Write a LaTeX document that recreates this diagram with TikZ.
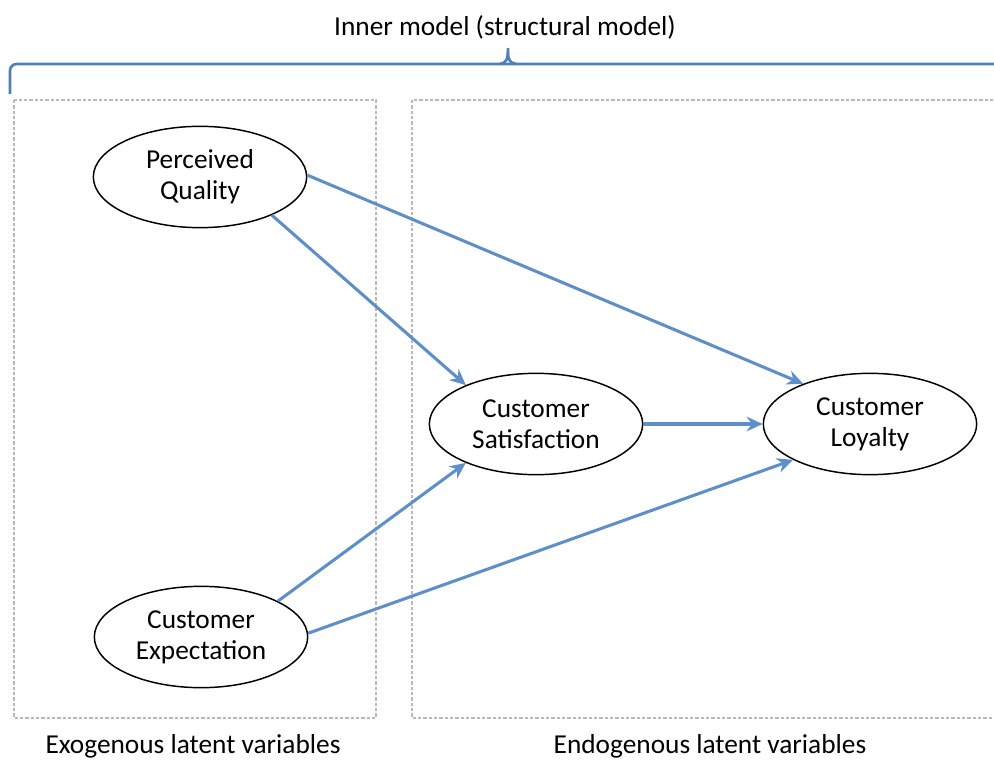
\documentclass[tikz,border=0pt]{standalone}
\usepackage{fontspec}
\setmainfont{Carlito}
\usetikzlibrary{shapes.geometric,arrows.meta}
\definecolor{arrowblue}{HTML}{5E8FC8}
\definecolor{braceblue}{HTML}{4F7FBA}
\tikzset{
  latent/.style={ellipse, draw=black, line width=1.1pt, fill=white, minimum width=160pt, minimum height=76pt, inner sep=0pt, align=center, font=\fontsize{20.5}{23}\selectfont},
  pathc/.style={draw=arrowblue, line width=2.3pt, -{Stealth[length=12pt,width=11pt,inset=4pt]}},
  groupbox/.style={draw=gray!55, line width=1pt, dash pattern=on 2.5pt off 1.5pt},
  caption/.style={font=\fontsize{20.5}{23}\selectfont, inner sep=0pt}
}
\begin{document}
\begin{tikzpicture}[x=0.75pt,y=-0.75pt]
\useasboundingbox (0,0) rectangle (994,762);
\clip (0,0) rectangle (994,762);
% title
\node[caption] (title) at (505,27) {Inner model (structural model)};
% brace
\draw[braceblue, line width=2pt, rounded corners=5pt] (10,94) -- (10,64) -- (1010,64);
\draw[braceblue, line width=2pt] (500,64) .. controls (506,63) and (508,60) .. (508,48);
\draw[braceblue, line width=2pt] (516,64) .. controls (510,63) and (508,60) .. (508,52);
% group boxes
\draw[groupbox] (14,100) rectangle (376,718);
\draw[groupbox] (412,100) rectangle (1010,718);
% nodes
\node[latent] (pq) at (200,177) {Perceived\\Quality};
\node[latent] (cs) at (536,424) {Customer\\Satisfaction};
\node[latent] (cl) at (870,424) {Customer\\Loyalty};
\node[latent] (ce) at (201,637) {Customer\\Expectation};
% paths
\draw[pathc] (pq.-28) -- (cs.151);
\draw[pathc] (pq.1) -- (cl.149);
\draw[pathc] (cs) -- (cl);
\draw[pathc] (ce.25) -- (cs.209);
\draw[pathc] (ce.2) -- (cl.205);
% captions
\node[caption] (exo) at (193,746) {Exogenous latent variables};
\node[caption] (endo) at (710,746) {Endogenous latent variables};
\end{tikzpicture}
\end{document}
